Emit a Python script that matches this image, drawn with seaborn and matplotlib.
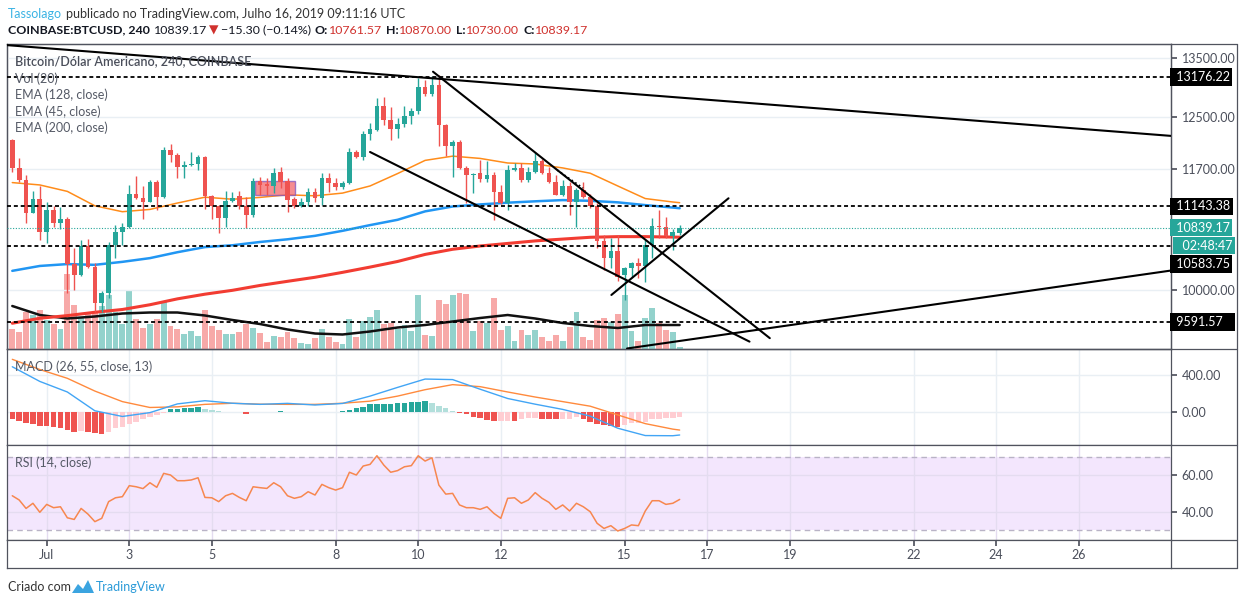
import matplotlib
matplotlib.use("Agg")
import matplotlib.pyplot as plt
import matplotlib.dates as mdates
from matplotlib.ticker import FixedLocator, FuncFormatter, NullLocator
from matplotlib.patches import Rectangle, Polygon
from matplotlib.lines import Line2D
import numpy as np
import pandas as pd
import seaborn as sns

# ---- dados (velas de 4h, COINBASE:BTCUSD) ----
START = "2019-06-30 04:00"

opens = [12140, 11705, 11530, 11050, 11250, 10775, 11090, 10910, 10960, 10340,
         10195, 10590, 10305, 9830, 9960, 10600, 10785, 10845, 11320, 11260,
         11210, 11500, 11285, 11985, 11905, 11720, 11750, 11765, 11880, 11290,
         11140, 10980, 11220, 11290, 11150, 11015, 11520, 11470, 11440, 11645,
         11520, 11245, 11150, 11210, 11345, 11260, 11555, 11480, 11425, 11480,
         11950, 11880, 12230, 12300, 12680, 12460, 12315, 12395, 12525, 12600,
         13005, 12880, 13030, 12380, 12045, 12110, 11715, 11600, 11630, 11540,
         11600, 11355, 11190, 11680, 11705, 11530, 11650, 11820, 11640, 11505,
         11310, 11440, 11210, 11380, 11280, 11140, 10650, 10420, 10510, 10195,
         10285, 10350, 10315, 10600, 10860, 10845, 10725, 10761.57]
highs = [12150, 11860, 11600, 11370, 11440, 11210, 11140, 11135, 10990, 10555,
         10670, 10680, 10360, 9990, 10645, 10875, 10900, 11455, 11595, 11440,
         11530, 11530, 12035, 12075, 11935, 11820, 11950, 11910, 11890, 11300,
         11160, 11365, 11355, 11360, 11280, 11555, 11580, 11555, 11705, 11730,
         11555, 11280, 11260, 11410, 11410, 11630, 11630, 11555, 11510, 12010,
         11990, 12280, 12405, 12815, 12840, 12670, 12490, 12680, 12650, 13160,
         13120, 13195, 13210, 12400, 12140, 12140, 11740, 11640, 11830, 11810,
         11650, 11460, 11750, 11780, 11780, 11730, 11955, 11850, 11720, 11600,
         11530, 11495, 11410, 11495, 11320, 11190, 10740, 10690, 10740, 10300,
         10370, 10420, 10670, 10970, 11090, 10990, 10820, 10870]
lows = [11655, 11505, 10900, 11040, 10670, 10620, 10850, 10820, 9960, 10000,
        10180, 10285, 9720, 9720, 9900, 10420, 10600, 10830, 11250, 10960,
        11200, 11090, 11260, 11805, 11555, 11555, 11740, 11680, 11100, 10960,
        10770, 10850, 11210, 11110, 10830, 10990, 11310, 11310, 11340, 11410,
        11065, 11115, 11130, 11140, 11210, 11165, 11355, 11380, 11400, 11470,
        11860, 11830, 12140, 12280, 12380, 12140, 12165, 12350, 12390, 12560,
        12855, 12860, 12045, 11890, 11580, 11700, 11190, 11340, 11500, 11505,
        10950, 11170, 11090, 11660, 11500, 11500, 11630, 11620, 11480, 11300,
        11290, 11020, 10845, 11260, 11120, 10560, 10260, 10285, 10115, 9870,
        10170, 10150, 10100, 10420, 10700, 10700, 10530, 10730]
closes = [11705, 11530, 11050, 11250, 10775, 11090, 10910, 10960, 10340, 10195,
          10590, 10305, 9830, 9960, 10600, 10785, 10845, 11320, 11270, 11210,
          11500, 11285, 11985, 11905, 11720, 11750, 11765, 11880, 11290, 11140,
          10980, 11220, 11270, 11150, 11015, 11520, 11455, 11440, 11630, 11505,
          11235, 11140, 11210, 11345, 11260, 11555, 11480, 11425, 11480, 11950,
          11880, 12230, 12315, 12680, 12460, 12315, 12395, 12525, 12600, 13005,
          12880, 13030, 12380, 12045, 12110, 11715, 11600, 11620, 11540, 11600,
          11355, 11190, 11680, 11705, 11530, 11650, 11820, 11640, 11505, 11310,
          11440, 11210, 11380, 11280, 11140, 10650, 10420, 10510, 10175, 10285,
          10350, 10315, 10600, 10860, 10845, 10725, 10785, 10839.17]
volumes = [1930, 1670, 3670, 3330, 3830, 2830, 2430, 1930, 7500, 4330,
           3170, 3670, 3670, 4230, 5330, 3670, 2430, 5900, 3000, 2100,
           2500, 3000, 4670, 2230, 1930, 1500, 1730, 1230, 3830, 2230,
           1830, 1430, 1500, 1700, 2430, 2100, 1600, 700, 1270, 1170,
           1700, 1100, 570, 500, 1100, 2000, 1170, 700, 430, 2930,
           1200, 2770, 3170, 3830, 2430, 2600, 2000, 2370, 1770, 5370,
           1370, 1270, 4900, 4500, 5370, 5570, 5500, 1730, 2730, 2570,
           5070, 1830, 2230, 730, 1830, 1400, 1900, 1170, 730, 1400,
           730, 2130, 3630, 1170, 830, 2900, 3070, 2630, 3500, 5400,
           1730, 800, 3070, 4070, 2570, 1900, 1630, 130]
macd_hist = [-80, -102, -120, -134, -153, -155, -164, -182, -200, -218,
             -211, -225, -236, -243, -225, -182, -164, -134, -109, -80,
             -62, -36, -18, 25, 29, 36, 40, 47, 29, 15,
             4, 2, -5, -6, -22, -6, -3, -1, 2, 6,
             1, -5, -6, -4, -5, -3, -1, 1, 11, 18,
             40, 51, 80, 82, 83, 85, 92, 94, 103, 106,
             116, 94, 62, 40, 7, -11, -29, -54, -65, -91,
             -102, -100, -98, -102, -80, -73, -73, -80, -82, -84,
             -80, -78, -60, -80, -109, -134, -145, -156, -164, -145,
             -127, -120, -109, -80, -80, -73, -65, -55]
rsi = [48.7, 46.4, 41.8, 44.6, 39.7, 44.0, 42.2, 42.7, 36.7, 35.8,
       41.8, 38.7, 34.6, 36.4, 45.5, 47.6, 48.2, 54.2, 53.6, 52.6,
       55.8, 53.3, 60.9, 60.0, 56.9, 56.9, 57.3, 58.5, 47.8, 47.6,
       45.5, 48.7, 50.0, 47.8, 46.0, 53.6, 53.1, 52.7, 55.8, 53.6,
       48.7, 47.3, 48.2, 50.9, 49.1, 54.9, 53.1, 51.8, 53.1, 61.5,
       60.0, 64.9, 65.8, 70.5, 65.4, 61.5, 62.4, 64.5, 65.1, 70.5,
       67.6, 69.4, 54.5, 49.6, 50.0, 43.7, 42.2, 42.2, 41.3, 42.7,
       39.1, 36.4, 47.3, 47.6, 44.6, 46.4, 50.4, 47.3, 45.1, 41.3,
       43.7, 40.4, 44.6, 42.7, 40.0, 33.7, 30.9, 32.4, 29.5, 30.9,
       32.8, 32.4, 40.4, 46.0, 46.0, 44.0, 44.6, 46.7]

# indicadores lidos a cada 4 velas
line_idx = [0, 4, 8, 12, 16, 20, 24, 28, 32, 36, 40, 44, 48, 52, 56, 60,
            64, 68, 72, 76, 80, 84, 88, 92, 96, 97]
ema45 = [11490, 11455, 11360, 11150, 11065, 11098, 11190, 11275, 11245, 11272,
         11310, 11295, 11335, 11440, 11625, 11825, 11890, 11855, 11785, 11770,
         11710, 11630, 11440, 11255, 11205, 11195]
ema128 = [10250, 10315, 10340, 10330, 10370, 10420, 10500, 10570, 10595, 10640,
          10677, 10725, 10795, 10875, 10950, 11070, 11140, 11170, 11195, 11215,
          11233, 11222, 11200, 11160, 11125, 11115]
ema200 = [9578, 9640, 9673, 9715, 9750, 9810, 9885, 9945, 9995, 10058,
          10112, 10165, 10230, 10300, 10375, 10470, 10540, 10585, 10620, 10655,
          10680, 10705, 10714, 10714, 10708, 10706]
vol_ma = [4250, 3350, 3000, 3200, 3500, 3600, 3600, 3300, 2850, 2450,
          1900, 1500, 1400, 1700, 2100, 2350, 2700, 3050, 3350, 3000,
          2550, 2250, 2050, 2350, 2350, 2350]
macd_line = [490, 330, 215, 10, -52, -10, 85, 120, 92, 80, 91, 73, 90, 170,
             265, 356, 350, 245, 144, 82, 25, -48, -180, -260, -262, -254]
macd_signal = [571, 460, 364, 225, 110, 46, 53, 80, 92, 82, 80, 80, 92, 115,
               170, 240, 295, 273, 215, 160, 110, 60, -35, -130, -190, -200]

# níveis horizontais e linhas de tendência desenhadas
levels = [13176.22, 11143.38, 10583.75, 9591.57]
last_price = 10839.17
price_ticks = [10000, 11700, 12500, 13500]
trend_long = [("2019-07-10 00:00", 13169), ("2019-07-26 00:00", 12320)]
trend_up_long = [("2019-07-19 00:00", 9554), ("2019-07-26 00:00", 10080)]
trend_segments = [
    [("2019-07-10 08:36", 13263), ("2019-07-18 12:24", 9395)],
    [("2019-07-08 20:00", 11954), ("2019-07-18 00:36", 9353)],
    [("2019-07-14 16:18", 9935), ("2019-07-17 12:24", 11259)],
]
dotted_segment = [("2019-07-13 08:42", 11679), ("2019-07-13 23:48", 11410)]
box_zone = [("2019-07-06 01:06", 11310), ("2019-07-07 00:18", 11510)]

date_ticks = ["2019-07-01", "2019-07-03", "2019-07-05", "2019-07-08", "2019-07-10",
              "2019-07-12", "2019-07-15", "2019-07-17", "2019-07-19", "2019-07-22",
              "2019-07-24", "2019-07-26"]
date_labels = ["Jul", "3", "5", "8", "10", "12", "15", "17", "19", "22", "24", "26"]

# ---- estilo ----
sns.set_theme(style="white")
plt.rcParams["font.family"] = ["Lato", "DejaVu Sans"]

UP, DOWN = "#26a69a", "#ef5350"
VOL_UP, VOL_DOWN = "#93d2cc", "#f7a9a8"
FRAME = "#50535e"
GRID = "#e9eff4"
TXT = "#4a4e5a"

W, H = 1243, 605


def fx(px):
    return px / W


def fy(py):
    return 1 - py / H


def d(s):
    return mdates.date2num(pd.Timestamp(s))


fig = plt.figure(figsize=(W / 100, H / 100), dpi=100)
fig.patch.set_facecolor("white")

X0, X1 = 7, 1170.7


def add_pane(top, bottom, **kw):
    return fig.add_axes([fx(X0), fy(bottom), fx(X1) - fx(X0), fy(top) - fy(bottom)], **kw)


ax = add_pane(44, 348.5)
ax_macd = add_pane(348.5, 445, sharex=ax)
ax_rsi = add_pane(445, 540, sharex=ax)
ax_time = add_pane(540, 568, sharex=ax)
axv = ax.twinx()
ax.set_zorder(axv.get_zorder() + 1)
ax.patch.set_visible(False)

t = mdates.date2num(pd.date_range(START, periods=len(closes), freq="4h"))
t_line = t[line_idx]
step = 4 / 24
ax.set_xlim(t[0] - 0.77 * step, t[0] + 168.37 * step)

o, hi, lo, c = map(np.array, (opens, highs, lows, closes))
up = c >= o

# ---- painel principal ----
ax.set_yscale("log")
ax.set_ylim(9270, 13747)
axv.set_ylim(0, 30450)
axv.bar(t, volumes, width=step * 0.85, color=np.where(up, VOL_UP, VOL_DOWN), linewidth=0, zorder=2)
sns.lineplot(x=t_line, y=vol_ma, ax=axv, color="#111111", linewidth=1.8, zorder=3)
axv.set_yticks([])
axv.grid(axis="x", color=GRID, linewidth=1, zorder=0)
axv.set_axisbelow(True)

ax.yaxis.set_major_locator(FixedLocator(price_ticks))
ax.yaxis.set_minor_locator(NullLocator())
ax.yaxis.set_major_formatter(FuncFormatter(lambda v, _: f"{v:.2f}"))
ax.grid(axis="y", color=GRID, linewidth=1)

sns.lineplot(x=t_line, y=ema200, ax=ax, color="#f23c32", linewidth=2.2, zorder=3)
sns.lineplot(x=t_line, y=ema128, ax=ax, color="#2196f3", linewidth=1.8, zorder=3)
sns.lineplot(x=t_line, y=ema45, ax=ax, color="#ff8c1a", linewidth=1.1, zorder=3)

(b0, p0), (b1, p1) = box_zone
ax.add_patch(Rectangle((d(b0), p0), d(b1) - d(b0), p1 - p0, facecolor="#f4676b",
                       alpha=0.75, edgecolor="#7e57c2", linewidth=1, zorder=3.5))

colors = np.where(up, UP, DOWN)
ax.vlines(t, lo, np.maximum(hi, np.maximum(o, c)), colors=colors, linewidth=1, zorder=4)
body_lo = np.minimum(o, c)
body_hi = np.maximum(np.maximum(o, c), body_lo * 1.0012)
ax.bar(t, body_hi - body_lo, bottom=body_lo, width=step * 0.68, color=colors, linewidth=0, zorder=5)

for lvl in levels:
    ax.axhline(lvl, color="black", linestyle=(0, (2.2, 1.6)), linewidth=1.3, zorder=6)
ax.axhline(last_price, color=UP, linestyle=(0, (1, 1.5)), linewidth=0.8, zorder=6)

ax.axline((d(trend_long[0][0]), trend_long[0][1]), (d(trend_long[1][0]), trend_long[1][1]),
          color="black", linewidth=1.5, zorder=7)
ax.axline((d(trend_up_long[0][0]), trend_up_long[0][1]), (d(trend_up_long[1][0]), trend_up_long[1][1]),
          color="black", linewidth=1.5, zorder=7)
for seg in trend_segments:
    ax.plot([d(seg[0][0]), d(seg[1][0])], [seg[0][1], seg[1][1]], color="black", linewidth=1.5, zorder=7)
ax.plot([d(dotted_segment[0][0]), d(dotted_segment[1][0])],
        [dotted_segment[0][1], dotted_segment[1][1]], color="black", linestyle=":", linewidth=1.2, zorder=7)


def price_tag(y, text, bg, dy=0, dx=2):
    ax.annotate(text, xy=(1, y), xycoords=ax.get_yaxis_transform(), xytext=(dx, dy),
                textcoords="offset pixels", ha="left", va="center", fontsize=9, color="white",
                bbox=dict(boxstyle="square,pad=0.22", fc=bg, ec="none"), annotation_clip=False, zorder=10)


price_tag(levels[0], " 13176.22", "black")
price_tag(levels[1], " 11143.38", "black")
price_tag(levels[2], " 10583.75", "black", dy=-18)
price_tag(levels[3], " 9591.57   ", "black")
price_tag(last_price, " 10839.17", UP)
price_tag(last_price, "  02:48:47", UP, dy=-18, dx=5)

# ---- MACD ----
ax_macd.set_ylim(-363, 689)
hist_colors = []
prev = None
for h in macd_hist:
    if h >= 0:
        hist_colors.append(UP if prev is None or h > prev else "#b2dfdb")
    else:
        hist_colors.append(DOWN if prev is None or h < prev else "#ffcdd2")
    prev = h
ax_macd.bar(t, macd_hist, width=step * 0.8, color=hist_colors, linewidth=0, zorder=2)
sns.lineplot(x=t_line, y=macd_signal, ax=ax_macd, color="#ff8a3d", linewidth=1, zorder=3)
sns.lineplot(x=t_line, y=macd_line, ax=ax_macd, color="#42a5f5", linewidth=1, zorder=3)
ax_macd.yaxis.set_major_locator(FixedLocator([0, 400]))
ax_macd.yaxis.set_major_formatter(FuncFormatter(lambda v, _: f"{v:.2f}"))
ax_macd.grid(axis="both", color=GRID, linewidth=1)
ax_macd.set_axisbelow(True)

# ---- RSI ----
ax_rsi.set_ylim(24.6, 76.35)
ax_rsi.axhspan(30, 70, color="#f3e6fd", zorder=0, linewidth=0)
for lvl in (30, 70):
    ax_rsi.axhline(lvl, color="#b9b3c6", linestyle=(0, (4, 3)), linewidth=1, zorder=1)
sns.lineplot(x=t, y=rsi, ax=ax_rsi, color="#f7874f", linewidth=1.1, zorder=3)
ax_rsi.yaxis.set_major_locator(FixedLocator([40, 60]))
ax_rsi.yaxis.set_major_formatter(FuncFormatter(lambda v, _: f"{v:.2f}"))
ax_rsi.grid(axis="both", color="#e4dcf0", linewidth=1)
ax_rsi.set_axisbelow(True)

# ---- eixo de tempo ----
tick_pos = [d(s) for s in date_ticks]
ax_time.set_xticks(tick_pos)
ax_time.set_yticks([])
ax_time.tick_params(axis="x", top=True, bottom=False, direction="in", length=4,
                    color=FRAME, labelbottom=False, labeltop=False)
for pos, lab in zip(tick_pos, date_labels):
    ax_time.text(pos, 0.45, lab, transform=ax_time.get_xaxis_transform(), ha="center",
                 va="center", fontsize=9, color=TXT)

for a in (ax, ax_macd, ax_rsi):
    a.yaxis.tick_right()
    a.tick_params(axis="y", length=4, color=FRAME, labelsize=9, labelcolor=TXT, pad=4, right=True, left=False)
    a.tick_params(axis="x", length=0, labelbottom=False)
    a.set_xlabel("")
    a.set_ylabel("")
axv.set_ylabel("")
for a in (ax, ax_macd, ax_rsi, ax_time, axv):
    for sp in a.spines.values():
        sp.set_color(FRAME)
        sp.set_linewidth(0.9)

# moldura da área de escala
for yy in (44, 348.5, 445, 540, 568):
    fig.add_artist(Line2D([fx(X1), fx(1237)], [fy(yy), fy(yy)], transform=fig.transFigure,
                          color=FRAME, linewidth=0.9))
fig.add_artist(Line2D([fx(1237), fx(1237)], [fy(44), fy(568)], transform=fig.transFigure,
                      color=FRAME, linewidth=0.9))

# ---- textos ----
fig.text(fx(15), fy(61), "Bitcoin/Dólar Americano, 240, COINBASE", fontsize=9, color="#4a4e5a",
         fontweight="semibold", va="center")
for yy, lab in [(79, "Vol (20)"), (95, "EMA (128, close)"), (111.5, "EMA (45, close)"), (128, "EMA (200, close)")]:
    fig.text(fx(15), fy(yy), lab, fontsize=9, color="#555a66", va="center")
fig.text(fx(15), fy(366.5), "MACD (26, 55, close, 13)", fontsize=9, color="#555a66", va="center")
fig.text(fx(15), fy(463), "RSI (14, close)", fontsize=9, color="#555a66", va="center")

renderer = fig.canvas.get_renderer()


def chain_text(x_px, base_px, parts, size=9):
    x = x_px
    for txt, color, weight, gap in parts:
        tt = fig.text(fx(x), fy(base_px), txt, color=color, fontsize=size, fontweight=weight,
                      va="baseline", ha="left")
        x += tt.get_window_extent(renderer).width + gap


DARK = "#131722"
RED_TXT = "#d0312d"
chain_text(8, 17.5, [("Tassolago", "#3bb3e4", "normal", 3.5),
                     ("publicado no TradingView.com, Julho 16, 2019 09:11:16 UTC", "#333333", "normal", 0)])
chain_text(8, 33.5, [("COINBASE:BTCUSD, 240", DARK, "bold", 4),
                     ("10839.17", DARK, "normal", 2),
                     ("▼", RED_TXT, "normal", 2),
                     ("\u221215.30 (\u22120.14%)", DARK, "normal", 4),
                     ("O:", DARK, "bold", 0.5), ("10761.57", RED_TXT, "normal", 4),
                     ("H:", DARK, "bold", 0.5), ("10870.00", RED_TXT, "normal", 4),
                     ("L:", DARK, "bold", 0.5), ("10730.00", RED_TXT, "normal", 4),
                     ("C:", DARK, "bold", 0.5), ("10839.17", RED_TXT, "normal", 0)], size=8.9)

fig.text(fx(8), fy(587), "Criado com", fontsize=9, color="#333333", va="center")
fig.add_artist(Polygon([[fx(72), fy(593)], [fx(78), fy(584)], [fx(83), fy(589)], [fx(88), fy(580)],
                        [fx(94), fy(593)]], closed=True, transform=fig.transFigure,
                       facecolor="#3ba4e0", edgecolor="none"))
fig.text(fx(96), fy(587), "TradingView", fontsize=9, color="#2a9ad8", va="center")

fig.savefig("out.png", dpi=100, facecolor="white")
